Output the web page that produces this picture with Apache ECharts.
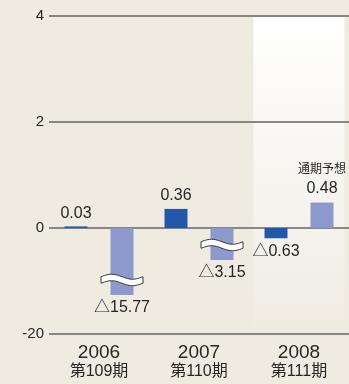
<!DOCTYPE html>
<html>
<head>
<meta charset="utf-8">
<script src="https://cdn.jsdelivr.net/npm/echarts@6/dist/echarts.min.js"></script>
<style>
  html, body { margin: 0; padding: 0; background: #EFEBE1; }
  #chart { width: 349px; height: 384px; }
</style>
</head>
<body>
<div id="chart"></div>
<script>
// Fiscal years and period names
const years = ['2006', '2007', '2008'];
const periods = ['第109期', '第110期', '第111期'];
// Dark bars and light bars (billions); negatives are printed with △
const darkValues = [0.03, 0.36, -0.63];
const lightValues = [-15.77, -3.15, 0.48];
// Index of the forecast year and its caption
const forecastIndex = 2;
const forecastCaption = '通期予想';
// Labels for the axis ticks at -2, 0, 2, 4 (axis units)
const yTickLabels = ['-20', '0', '2', '4'];

const FONT = '"Liberation Sans", Arial, "Noto Sans CJK JP", sans-serif';
const CJK = '"Liberation Sans", "Noto Sans CJK JP", sans-serif';
const BAR_W = 23;
const DARK = '#2358A8';
const LIGHT = '#8D99CC';
const TEXT = '#262626';

// Broken value scale: positive side linear, negative side compressed
function toAxis(v) {
  return v >= 0 ? v : -1.13 * Math.log10(1 + (-v) / 1.3);
}
function fmt(v) {
  return v < 0 ? '△' + (-v).toFixed(2) : v.toFixed(2);
}

const labelBase = {
  show: true, position: 'outside', distance: 5,
  fontFamily: FONT, fontSize: 16, color: TEXT
};

const darkData = darkValues.map(v => ({ value: toAxis(v) }));
const lightData = lightValues.map((v, i) => {
  const item = { value: toAxis(v) };
  if (i === forecastIndex) {
    item.label = {
      formatter: '{n|' + forecastCaption + '}\n{v|' + fmt(v) + '}',
      rich: {
        n: { fontFamily: CJK, fontSize: 12, color: TEXT, lineHeight: 19 },
        v: { fontFamily: FONT, fontSize: 16, color: TEXT, lineHeight: 18 }
      }
    };
  }
  return item;
});

// Break marks drawn across the compressed bars
const breakData = lightValues
  .map((v, i) => [i, toAxis(v), v])
  .filter(d => d[2] < -1);

function wavePoints(cx, cy, w, amp, thick) {
  const top = [], bot = [];
  const n = 24;
  for (let k = 0; k <= n; k++) {
    const t = k / n;
    const x = cx - w / 2 + w * t;
    const dy = -amp * Math.sin(2 * Math.PI * t);
    top.push([x, cy - thick / 2 + dy]);
    bot.push([x, cy + thick / 2 + dy]);
  }
  return { top, bot };
}

const chart = echarts.init(document.getElementById('chart'), null, { renderer: 'canvas' });
chart.setOption({
  animation: false,
  backgroundColor: '#EFEBE1',
  grid: { left: 49, right: -3, top: 16, bottom: 50, containLabel: false },
  xAxis: {
    type: 'category',
    data: years,
    axisLine: { show: false },
    axisTick: { show: false },
    axisLabel: {
      margin: 10,
      formatter: (val, idx) => '{y|' + val + '}\n{p|' + periods[idx] + '}',
      rich: {
        y: { fontFamily: FONT, fontSize: 19, color: TEXT, lineHeight: 18 },
        p: { fontFamily: CJK, fontSize: 16, color: TEXT, lineHeight: 20 }
      }
    }
  },
  yAxis: {
    type: 'value',
    min: -2, max: 4, interval: 2,
    axisLine: { show: false },
    axisTick: { show: false },
    axisLabel: {
      margin: 5,
      fontFamily: FONT, fontSize: 15, color: TEXT,
      formatter: (val, idx) => yTickLabels[idx]
    },
    splitLine: { lineStyle: { color: '#646464', width: 1.5 } }
  },
  series: [
    {
      // Forecast column highlight
      type: 'custom',
      z: -1,
      silent: true,
      data: [[forecastIndex]],
      renderItem: (params, api) => {
        const idx = api.value(0);
        const top = api.coord([idx, 4]);
        const bottom = api.coord([idx, -2]);
        const band = api.size([1, 0])[0];
        const x0 = top[0] - band / 2 + 4.5;
        const y0 = top[1] + 1;
        return {
          type: 'rect',
          shape: { x: x0, y: y0, width: band - 9, height: bottom[1] - 7 - y0 },
          style: {
            fill: new echarts.graphic.LinearGradient(0, 0, 0, 1, [
              { offset: 0, color: '#FFFFFF' },
              { offset: 1, color: '#F0ECE2' }
            ])
          }
        };
      }
    },
    {
      type: 'bar',
      data: darkData,
      barWidth: BAR_W,
      barGap: '100%',
      itemStyle: { color: DARK },
      label: Object.assign({}, labelBase, {
        formatter: p => fmt(darkValues[p.dataIndex])
      })
    },
    {
      type: 'bar',
      data: lightData,
      barWidth: BAR_W,
      barGap: '100%',
      itemStyle: { color: LIGHT },
      label: Object.assign({}, labelBase, {
        formatter: p => fmt(lightValues[p.dataIndex])
      })
    },
    {
      type: 'custom',
      z: 5,
      silent: true,
      data: breakData,
      renderItem: (params, api) => {
        const end = api.coord([api.value(0), api.value(1)]);
        const cx = end[0] + BAR_W;
        const cy = end[1] - 15;
        const w = wavePoints(cx, cy, 42, 2.5, 6.5);
        const pts = w.top.concat(w.bot.slice().reverse());
        return {
          type: 'polygon',
          shape: { points: pts },
          style: { fill: '#FFFFFF', stroke: '#3A3A3A', lineWidth: 1 }
        };
      }
    }
  ]
});
</script>
</body>
</html>
